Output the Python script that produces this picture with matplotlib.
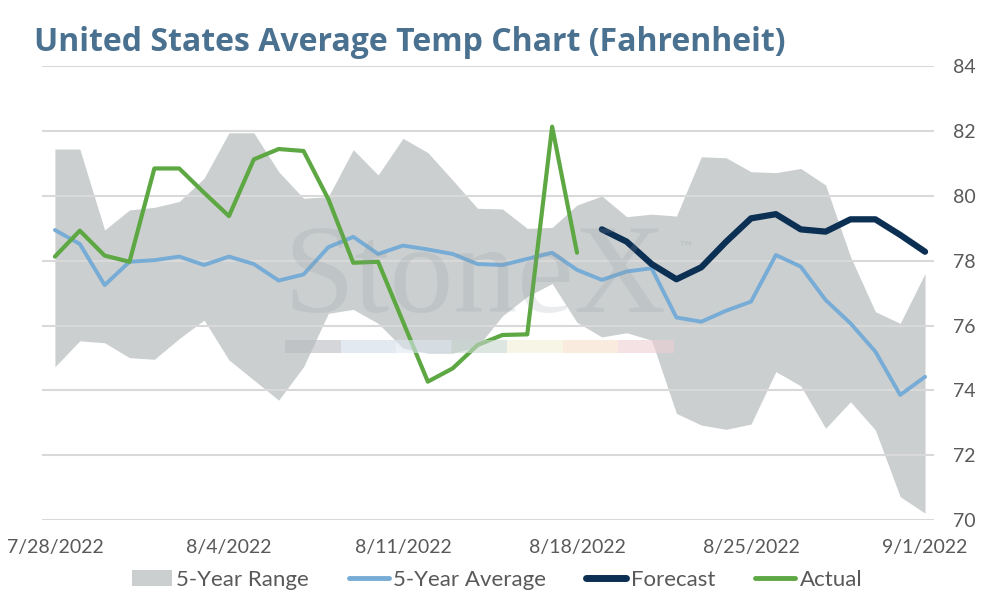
import matplotlib
matplotlib.use("Agg")
import matplotlib.pyplot as plt
from matplotlib.patches import Patch, Rectangle
from matplotlib.lines import Line2D
import numpy as np
import pandas as pd

dates = pd.date_range("2022-07-28", "2022-09-01", freq="D")
tick_labels = ["7/28/2022", "8/4/2022", "8/11/2022", "8/18/2022", "8/25/2022", "9/1/2022"]

range_high = [81.45, 81.45, 78.95, 79.57, 79.65, 79.83, 80.55, 81.95, 81.95, 80.75,
              79.93, 79.98, 81.43, 80.65, 81.78, 81.34, 80.49, 79.62, 79.60, 79.00,
              79.03, 79.72, 80.00, 79.36, 79.44, 79.38, 81.21, 81.18, 80.75, 80.72,
              80.85, 80.34, 78.13, 76.43, 76.07, 77.61]
range_low = [74.73, 75.53, 75.47, 75.01, 74.96, 75.60, 76.17, 74.94, 74.32, 73.70,
             74.73, 76.38, 76.50, 76.07, 75.30, 75.15, 75.15, 75.35, 76.30, 76.90,
             77.30, 76.10, 75.65, 75.78, 75.55, 73.29, 72.93, 72.80, 72.96, 74.58,
             74.14, 72.83, 73.65, 72.78, 70.72, 70.21]
avg5 = [78.95, 78.52, 77.25, 77.97, 78.02, 78.13, 77.87, 78.13, 77.90, 77.39,
        77.58, 78.42, 78.74, 78.21, 78.47, 78.35, 78.21, 77.90, 77.87, 78.06,
        78.25, 77.72, 77.41, 77.67, 77.77, 76.25, 76.12, 76.46, 76.74, 78.18,
        77.82, 76.79, 76.07, 75.20, 73.86, 74.42]
actual = [78.13, 78.93, 78.16, 77.97, 80.85, 80.85, 80.10, 79.38, 81.13, 81.45,
          81.39, 79.90, 77.94, 77.97, 76.12, 74.27, 74.68, 75.40, 75.71, 75.73,
          82.14, 78.25]
forecast = [78.97, 78.59, 77.90, 77.43, 77.80, 78.59, 79.31, 79.44, 78.97, 78.90,
            79.28, 79.28, 78.80, 78.28]

C_FILL = "#cbcfd0"
C_AVG = "#77acd6"
C_FC = "#0c2f54"
C_ACT = "#5da843"
C_GRID = "#d9d9d9"
C_TXT = "#595959"
C_TITLE = "#4a7190"

plt.rcParams["font.family"] = ["Lato", "DejaVu Sans"]

fig = plt.figure(figsize=(9.94, 6.0), dpi=100)
ax = fig.add_axes([42 / 994, 80 / 600, 892 / 994, 453.6 / 600])

x_all = np.arange(len(dates))
x_act = x_all[:len(actual)]
x_fc = x_all[len(actual):len(actual) + len(forecast)]

ax.fill_between(x_all, range_low, range_high, color=C_FILL, lw=0, zorder=1)
ax.plot(x_all, avg5, color=C_AVG, lw=2.8, solid_joinstyle="round", solid_capstyle="round", zorder=4)
ax.plot(x_fc, forecast, color=C_FC, lw=4.5, solid_joinstyle="round", solid_capstyle="round", zorder=5)
ax.plot(x_act, actual, color=C_ACT, lw=3.0, solid_joinstyle="round", solid_capstyle="round", zorder=5)

ax.set_xlim(-0.52, 35.36)
ax.set_ylim(70, 84)
ax.set_yticks(np.arange(70, 85, 2))
ax.yaxis.tick_right()
ax.set_xticks([0, 7, 14, 21, 28, 35])
ax.set_xticklabels(tick_labels)
ax.tick_params(axis="both", length=0, labelsize=14, labelcolor=C_TXT)
ax.tick_params(axis="y", pad=14)
ax.tick_params(axis="x", pad=14)
ax.grid(axis="y", color=C_GRID, lw=1.5, zorder=2)
ax.grid(axis="x", visible=False)
ax.set_axisbelow(False)
for s in ax.spines.values():
    s.set_visible(False)
ax.set_facecolor("none")

# watermark
fig.text(284 / 994, 1 - 312 / 600, "StoneX", family="Liberation Serif", fontsize=92,
         color="#8c969c", alpha=0.18, ha="left", va="baseline", zorder=3)
fig.text(678 / 994, 1 - 252 / 600, "™", family="DejaVu Sans", fontsize=12,
         color="#8c969c", alpha=0.25, ha="left", va="baseline", zorder=3)
strip_cols = ["#b8bcc0", "#cfdbe8", "#dde7f1", "#c9d6cf", "#f3f1d6", "#f6e0c8", "#efcfd4"]
seg_w = 55.5 / 994
for i, c in enumerate(strip_cols):
    fig.patches.append(Rectangle((285 / 994 + i * seg_w, 1 - 353 / 600), seg_w, 13 / 600,
                                 transform=fig.transFigure, color=c, alpha=0.6, lw=0, zorder=3))

fig.text(34 / 994, 1 - 51 / 600, "United States Average Temp Chart (Fahrenheit)",
         family=["Open Sans", "DejaVu Sans"], fontsize=23, fontweight="bold",
         color=C_TITLE, ha="left", va="baseline")

handles = [
    Patch(facecolor=C_FILL, edgecolor="none"),
    Line2D([], [], color=C_AVG, lw=3.5, solid_capstyle="round"),
    Line2D([], [], color=C_FC, lw=5, solid_capstyle="round"),
    Line2D([], [], color=C_ACT, lw=3.5, solid_capstyle="round"),
]
labels = ["5-Year Range", "5-Year Average", "Forecast", "Actual"]
leg = fig.legend(handles, labels, loc="center", bbox_to_anchor=(0.5, 1 - 580 / 600), ncol=4,
                 frameon=False, fontsize=16, handlelength=1.8, handletextpad=0.2,
                 columnspacing=1.8, labelcolor=C_TXT)

fig.savefig("out.png", dpi=100)
